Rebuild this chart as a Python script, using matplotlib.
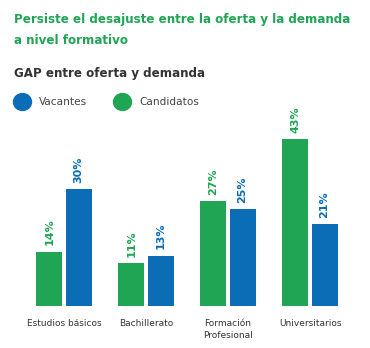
import numpy as np
import matplotlib.pyplot as plt

categories = ['Estudios básicos', 'Bachillerato', 'Formación\nProfesional', 'Universitarios']
candidatos = [14, 11, 27, 43]
vacantes = [30, 13, 25, 21]

green = '#1fa553'
blue = '#0a6db5'

fig = plt.figure(figsize=(3.7, 3.48), dpi=100)

fig.text(14/370, 1 - 20/348, 'Persiste el desajuste entre la oferta y la demanda',
         color=green, fontsize=8.6, fontweight='bold', va='center', ha='left')
fig.text(14/370, 1 - 41/348, 'a nivel formativo',
         color=green, fontsize=8.6, fontweight='bold', va='center', ha='left')
fig.text(14/370, 1 - 74/348, 'GAP entre oferta y demanda',
         color='#333333', fontsize=8.6, fontweight='bold', va='center', ha='left')

# legend
fig.patches.append(plt.Circle((22.5/370, 1 - 102/348), 9/370, color=blue,
                              transform=fig.transFigure, figure=fig))
fig.text(39/370, 1 - 102/348, 'Vacantes', color='#444444', fontsize=7.6, va='center')
fig.patches.append(plt.Circle((122.5/370, 1 - 102/348), 9/370, color=green,
                              transform=fig.transFigure, figure=fig))
fig.text(139/370, 1 - 102/348, 'Candidatos', color='#444444', fontsize=7.6, va='center')

# bars: baseline at y=306px
ax = fig.add_axes([23/370, 1 - 306/348, 328/370, (306 - 100)/348])
x = np.arange(len(categories))
w = 0.317
off = 0.177
ax.bar(x - off, candidatos, w, color=green)
ax.bar(x + off, vacantes, w, color=blue)
ax.set_ylim(0, 43 * 206 / 167.0)
ax.set_xlim(-0.5, len(categories) - 0.5)

for i in range(len(categories)):
    ax.annotate('%d%%' % candidatos[i], (x[i] - off, candidatos[i]), xytext=(0, 4.5),
                textcoords='offset points', rotation=90, ha='center', va='bottom',
                color=green, fontsize=8, fontweight='bold')
    ax.annotate('%d%%' % vacantes[i], (x[i] + off, vacantes[i]), xytext=(0, 4.5),
                textcoords='offset points', rotation=90, ha='center', va='bottom',
                color=blue, fontsize=8, fontweight='bold')

ax.set_xticks(x)
ax.set_xticklabels(categories, fontsize=6.5, color='#333333', linespacing=1.5, va='top')
ax.tick_params(axis='x', length=0, pad=9)
ax.set_yticks([])
for s in ax.spines.values():
    s.set_visible(False)

plt.savefig('out.png', dpi=100)
